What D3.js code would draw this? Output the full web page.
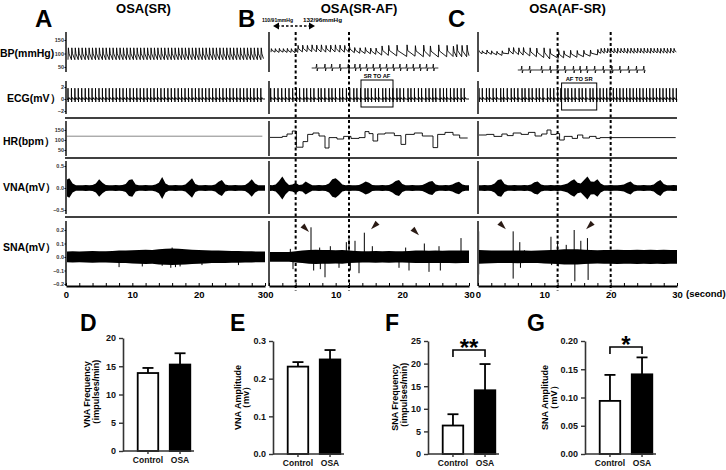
<!DOCTYPE html>
<html>
<head>
<meta charset="utf-8">
<script src="https://cdn.jsdelivr.net/npm/d3@7"></script>
<style>
  body { margin: 0; background: #fff; }
  svg { display: block; font-family: "Liberation Sans", Arial, sans-serif; }
</style>
</head>
<body>
<script>

// ---------- recording panels (A, B, C) ----------
const panelLetters = ['A', 'B', 'C'];
const panelTitles = ['OSA(SR)', 'OSA(SR-AF)', 'OSA(AF-SR)'];
const rowLabels = ['BP(mmHg)', 'ECG(mV）', 'HR(bpm）', 'VNA(mV）', 'SNA(mV）'];
const secondTicks = [0, 10, 20, 30];

// ECG R waves: first beat time (s) and R-R intervals (s)
const ecgStart = [0.3, 0.25, 0.15];
const rrA = [0.52,0.52,0.51,0.52,0.53,0.52,0.51,0.52,0.52,0.52,0.51,0.52,0.52,0.53,0.52,0.51,0.52,0.52,0.52,0.51,
  0.52,0.53,0.52,0.52,0.51,0.52,0.52,0.52,0.53,0.51,0.52,0.52,0.51,0.52,0.52,0.53,0.52,0.52,0.51,0.52,
  0.52,0.52,0.51,0.53,0.52,0.52,0.52,0.51,0.52,0.52,0.53,0.52,0.51,0.52,0.52,0.52];
const rrB = [0.55,0.55,0.56,0.55,0.54,0.55,0.56,0.48,0.62,0.45,0.58,0.50,0.66,0.42,0.55,0.60,0.47,0.52,0.64,0.44,
  0.57,0.50,0.61,0.46,0.55,0.68,0.43,0.52,0.58,0.49,0.63,0.45,0.56,0.51,0.60,0.47,0.54,0.66,0.44,0.53,
  0.59,0.48,0.62,0.50,0.55,0.45,0.64,0.52,0.47,0.58,0.53,0.50,0.56,0.48];
const rrC = [0.50,0.62,0.44,0.57,0.49,0.65,0.43,0.56,0.60,0.47,0.53,0.63,0.45,0.58,0.50,0.61,0.46,0.55,0.67,0.44,
  0.52,0.59,0.48,0.62,0.46,0.56,0.51,0.60,0.47,0.54,0.64,0.45,0.55,0.50,0.50,0.51,0.50,0.50,0.49,0.50,
  0.50,0.51,0.50,0.50,0.50,0.49,0.50,0.51,0.50,0.50,0.50,0.50,0.49,0.50,0.51,0.50,0.50];
const ecgR = [1.8, 1.8, 1.8];

// BP pulses in A follow every ECG beat: [systolic, diastolic]
const bpA = [121, 77];
// BP pulses in B and C: [time s, systolic, diastolic]
const bpB = [[0.3,118,105],[0.9,118,105],[1.5,119,104],[2.1,118,105],[2.7,119,104],[3.3,118,104],[3.9,118,103],
  [4.3,130,104],[5.0,131,106],[5.7,130,107],[6.4,132,107],[7.1,131,106],[7.8,132,106],[8.5,130,105],[9.2,131,106],
  [9.9,132,106],[10.6,131,105],[11.3,130,105],[12.0,128,104],[12.8,122,103],[13.6,121,101],[14.4,122,100],
  [15.2,120,99],[16.0,120,97],[16.9,128,94],[17.9,130,93],[19.15,131,91],[20.65,132,89],[21.9,129,90],
  [23.15,131,88],[24.15,128,89],[25.4,132,87],[26.65,130,88],[27.6,127,89],[28.15,133,87],[28.9,130,88],[29.65,131,88]];
const bpC = [[0.05,112,100],[0.6,110,99],[1.3,113,98],[2.0,110,97],[2.8,108,95],[3.6,110,93],
  [4.6,121,99],[5.3,122,98],[6.1,121,96],[6.8,122,94],[7.8,121,91],[8.8,120,88],[9.9,121,85],[10.8,118,80],
  [12.1,112,82],[12.9,110,84],[13.9,112,85],[14.9,111,86],[15.9,112,88],[16.9,113,90],[18.0,115,95],
  [18.5,119,101],[19.0,120,101],[19.5,119,102],[20.0,120,101],[20.5,119,102],[21.0,120,101],[21.5,119,102],
  [22.0,120,102],[22.5,119,101],[23.0,120,102],[23.5,119,101],[24.0,120,102],[24.5,119,102],[25.0,120,101],
  [25.5,119,102],[26.0,120,101],[26.5,119,102],[27.0,120,102],[27.5,119,101],[28.0,120,102],[28.5,119,101],
  [29.0,120,102],[29.5,119,102]];

// expanded ECG strips drawn under the BP trace in B and C (R wave times, s)
const insetSpanB = [6.4, 25.4];
const insetB = [7.15,8.4,9.4,10.65,11.9,12.9,13.65,14.65,15.65,16.65,17.65,18.65,19.65,20.65,21.65,22.65,23.65,24.65];
const insetSpanC = [6.0, 25.2];
const insetC = [6.6,7.8,9.6,10.9,12.0,13.1,14.4,15.4,16.4,17.6,18.9,20.2,21.4,22.7,23.9,25.0];

// heart rate, step values [time s, bpm]
const hrA = [[0, 119], [29.6, 119]];
const hrB = [[0,113],[2,118],[2.7,130],[3.5,145],[4.1,64],[5.1,92],[5.8,128],[6.6,135],[7.5,120],[8.4,60],[9.0,112],
  [10.2,105],[11.2,118],[12.3,108],[13.5,112],[14.4,142],[15.0,132],[15.6,95],[16.3,130],[17.4,135],[18.8,122],
  [19.8,78],[20.5,128],[21.8,135],[23.0,120],[24.6,62],[25.3,128],[26.4,138],[27.6,125],[28.6,110],[29.8,110]];
const hrC = [[0,125],[1.3,128],[2.4,118],[3.6,130],[4.4,122],[5.3,135],[6.5,128],[7.6,138],[8.6,120],[9.6,130],
  [10.4,150],[11.0,128],[11.8,132],[12.3,100],[13.0,118],[14.2,108],[15.0,125],[15.8,110],[16.8,118],[17.8,108],
  [18.4,112],[29.8,112]];

// VNA envelope half-amplitude (mV), every 0.5 s from 0 to 30 s
const vnaA = [0.18,0.22,0.10,0.06,0.06,0.06,0.07,0.06,0.07,0.10,0.20,0.12,0.07,0.06,0.06,0.07,0.06,0.07,0.09,0.18,
  0.20,0.08,0.06,0.06,0.07,0.06,0.06,0.08,0.12,0.25,0.10,0.06,0.06,0.07,0.06,0.06,0.08,0.15,0.22,0.09,
  0.06,0.06,0.07,0.06,0.06,0.08,0.14,0.18,0.08,0.06,0.06,0.07,0.06,0.06,0.07,0.12,0.20,0.10,0.06,0.06,0.06];
const vnaB = [0.07,0.06,0.08,0.16,0.26,0.14,0.07,0.08,0.12,0.07,0.08,0.15,0.10,0.06,0.06,0.07,0.06,0.07,0.10,0.20,
  0.22,0.16,0.08,0.06,0.07,0.06,0.06,0.07,0.10,0.15,0.12,0.07,0.06,0.06,0.07,0.06,0.07,0.10,0.16,0.18,
  0.09,0.06,0.06,0.07,0.06,0.06,0.07,0.10,0.14,0.16,0.08,0.06,0.06,0.07,0.06,0.08,0.12,0.14,0.08,0.06,0.06];
const vnaC = [0.06,0.06,0.07,0.06,0.07,0.10,0.18,0.20,0.09,0.06,0.06,0.07,0.06,0.06,0.07,0.06,0.08,0.13,0.15,0.08,
  0.06,0.06,0.07,0.06,0.07,0.06,0.08,0.10,0.16,0.20,0.12,0.10,0.18,0.26,0.15,0.14,0.20,0.10,0.06,0.06,
  0.07,0.06,0.06,0.07,0.08,0.12,0.15,0.08,0.06,0.06,0.07,0.06,0.06,0.08,0.14,0.18,0.09,0.06,0.06,0.07,0.06];

// SNA background band half-width (mV), every 1 s, and single spikes [time s, mV]
const snaBandA = [0.038,0.04,0.038,0.04,0.042,0.04,0.04,0.042,0.045,0.045,0.048,0.05,0.052,0.05,0.055,0.058,
  0.06,0.058,0.055,0.052,0.05,0.048,0.045,0.045,0.044,0.042,0.042,0.04,0.04,0.038,0.038];
const snaBandB = [0.035,0.036,0.035,0.036,0.04,0.045,0.05,0.052,0.05,0.05,0.048,0.05,0.045,0.042,0.04,0.04,
  0.042,0.04,0.042,0.04,0.04,0.042,0.045,0.045,0.044,0.045,0.044,0.045,0.046,0.045,0.045];
const snaBandC = [0.05,0.048,0.046,0.045,0.045,0.045,0.046,0.045,0.044,0.045,0.048,0.05,0.052,0.055,0.055,0.055,
  0.052,0.05,0.048,0.05,0.05,0.052,0.05,0.05,0.052,0.05,0.052,0.05,0.052,0.05,0.05];
const snaSpikesA = [[8.0,-0.075],[11.5,-0.07],[14.5,-0.065],[15.8,-0.08],[16.5,-0.075],[17.2,-0.07],[16.0,0.07],[20.5,-0.06],[26,-0.06]];
const snaSpikesB = [[3.2,0.06],[6.3,0.22],[7.6,0.07],[9.2,0.08],[11.6,0.11],[12.0,0.13],[12.9,0.12],[14.3,0.18],
  [15.5,0.08],[20.5,0.07],[23.3,0.1],[25.5,0.08],[28.8,0.14],[3.6,-0.09],[6.7,-0.1],[7.7,-0.09],[8.4,-0.15],
  [10.5,-0.08],[12.2,-0.1],[13.5,-0.12],[19.5,-0.08],[21,-0.1],[24,-0.11],[25.7,-0.1]];
const snaSpikesC = [[0.1,0.19],[0.1,-0.13],[5.3,0.19],[5.3,-0.16],[6.3,0.11],[6.4,-0.08],[7,0.05],[11,0.15],
  [11.1,-0.06],[12,0.12],[12.1,-0.07],[13.3,0.09],[14.5,0.2],[14.6,-0.18],[15.5,0.12],[16.5,0.14],[16.6,-0.17]];

// annotations
const dashedB = [4, 12], dashedC = [12, 20];
const arrowsB = [[5.4, 0.215, 1], [15.9, 0.235, -1], [21.9, 0.19, 1]];
const arrowsC = [[3.6, 0.235, 1], [16.9, 0.235, -1]];
const boxB = [13.8, 18.6], boxC = [12.6, 17.9];
const bpArrow = [0.6, 6.9];
const bpNotes = ['110/91mmHg', '132/96mmHg'];

// ---------- summary bars (D-G) ----------
const groups = ['Control', 'OSA'];
const vnaFreq = [13.8, 15.3], vnaFreqSem = [0.9, 2.0];
const vnaAmp = [0.232, 0.251], vnaAmpSem = [0.012, 0.025];
const snaFreq = [6.3, 14.1], snaFreqSem = [2.5, 5.8];
const snaAmp = [0.094, 0.141], snaAmpSem = [0.046, 0.030];

const W = 726, H = 470;
const svg = d3.select('body').append('svg').attr('width', W).attr('height', H);

const yBP = d3.scaleLinear([50, 150], [67, 40]);
const yECG = d3.scaleLinear([-2, 2], [111, 87]);
const yHR = d3.scaleLinear([50, 150], [150, 130]);
const yVNA = d3.scaleLinear([-0.5, 0.5], [210, 166]);
const ySNA = d3.scaleLinear([-0.2, 0.2], [284, 230]);
const rowSpans = [[32, 72], [81, 114], [121, 156], [161, 214], [221, 286]];
const separators = [118, 158, 217];

const panelX = [[66, 265], [269, 469], [478, 677]];

const cum = (start, rr) => rr.reduce((a, d) => (a.push(a[a.length - 1] + d), a), [start]);

function ecgPts(times, amp) {
  const p = [[0, 0]];
  times.forEach(t => p.push([t - 0.05, 0], [t - 0.02, -0.15], [t, amp], [t + 0.03, -0.5], [t + 0.06, 0], [t + 0.15, 0.25], [t + 0.25, 0]));
  p.push([30, 0]);
  return p.filter(d => d[0] >= 0 && d[0] <= 30);
}
function bpPts(beats) {
  const p = [];
  beats.forEach(b => p.push([b[0], b[2]], [b[0] + 0.06, b[1]], [b[0] + 0.16, b[2] + (b[1] - b[2]) * 0.5]));
  const last = beats[beats.length - 1];
  p.push([Math.min(30, last[0] + 0.4), last[2] + 4]);
  return p.filter(d => d[0] <= 30);
}
function insetPts(span, times) {
  const p = [[span[0], 0]];
  times.forEach(t => p.push([t - 0.1, 0], [t, 0.8], [t + 0.08, -0.6], [t + 0.18, 0]));
  p.push([span[1], 0]);
  return p;
}

const ecgTimes = [cum(ecgStart[0], rrA), cum(ecgStart[1], rrB), cum(ecgStart[2], rrC)];
const bpBeats = [ecgTimes[0].map(t => [t, bpA[0], bpA[1]]), bpB, bpC];
const hrData = [hrA, hrB, hrC];
const vnaData = [vnaA, vnaB, vnaC];
const snaBand = [snaBandA, snaBandB, snaBandC];
const snaSpikes = [snaSpikesA, snaSpikesB, snaSpikesC];

const defs = svg.append('defs');

panelX.forEach((px, pi) => {
  const x = d3.scaleLinear([0, 30], px);
  const clipId = 'clip' + pi;
  defs.append('clipPath').attr('id', clipId).append('rect')
    .attr('x', px[0] + 1).attr('y', 20).attr('width', px[1] - px[0]).attr('height', 270);
  const g = svg.append('g');
  const tr = g.append('g').attr('clip-path', `url(#${clipId})`);

  const line = (ys) => d3.line().x(d => x(d[0])).y(d => ys(d[1]));

  // BP
  tr.append('path').attr('d', line(yBP)(bpPts(bpBeats[pi])))
    .attr('fill', 'none').attr('stroke', '#000').attr('stroke-width', 0.9);
  // ECG
  tr.append('path').attr('d', line(yECG)(ecgPts(ecgTimes[pi], ecgR[pi])))
    .attr('fill', 'none').attr('stroke', '#000').attr('stroke-width', 0.9);
  // HR
  tr.append('path').attr('d', line(yHR).curve(d3.curveStepAfter)(hrData[pi]))
    .attr('fill', 'none').attr('stroke', pi ? '#000' : '#555').attr('stroke-width', pi ? 0.9 : 0.7);
  // VNA envelope
  tr.append('path')
    .attr('d', d3.area().x((d, i) => x(i * 0.5)).y0(d => yVNA(-d)).y1(d => yVNA(d))(vnaData[pi]))
    .attr('fill', '#000');
  // SNA band + spikes
  tr.append('path')
    .attr('d', d3.area().x((d, i) => x(i)).y0(d => ySNA(-d)).y1(d => ySNA(d * 1.05))(snaBand[pi]))
    .attr('fill', '#000');
  tr.selectAll('.spk').data(snaSpikes[pi]).join('line')
    .attr('x1', d => x(d[0])).attr('x2', d => x(d[0]))
    .attr('y1', ySNA(0)).attr('y2', d => ySNA(d[1]))
    .attr('stroke', '#000').attr('stroke-width', 1);

  // per-row left axis segments
  rowSpans.forEach(s => g.append('line').attr('x1', px[0]).attr('x2', px[0]).attr('y1', s[0]).attr('y2', s[1])
    .attr('stroke', '#000').attr('stroke-width', 1.4));

  // bottom axis
  const ax = g.append('g').attr('transform', 'translate(0,286)')
    .call(d3.axisBottom(x).tickValues(d3.range(0, 31, 2)).tickSizeInner(-3).tickSizeOuter(0).tickPadding(5)
      .tickFormat(d => secondTicks.includes(d) ? d : ''));
  ax.select('.domain').attr('stroke-width', 2);
  ax.selectAll('.tick line').attr('stroke-width', 1);
  ax.selectAll('text').attr('font-size', 9.5).attr('font-weight', 'bold')
    .attr('font-family', '"Liberation Sans", Arial, sans-serif').attr('fill', '#000')
    .attr('dx', d => (pi === 0 && d === 30) ? -2.5 : (pi === 1 && d === 0) ? 1.5 : 0);

  // titles and letters
  svg.append('text').attr('x', (px[0] + px[1]) / 2 - 22 + (pi ? 12 : 0)).attr('y', 12.5)
    .attr('text-anchor', 'middle').attr('font-size', 13).attr('font-weight', 'bold').text(panelTitles[pi]);
  svg.append('text').attr('x', px[0] - 31 + (pi === 2 ? 1 : 0)).attr('y', 27)
    .attr('font-size', 24).attr('font-weight', 'bold').text(panelLetters[pi]);
});

// separators
separators.forEach(y => svg.append('line').attr('x1', 65).attr('x2', 677).attr('y1', y).attr('y2', y)
  .attr('stroke', '#000').attr('stroke-width', 1.6));

// left tick labels for panel A
const tickFont = g => g.selectAll('text').attr('font-size', 5.5).attr('font-weight', 'bold').attr('fill', '#333')
  .attr('font-family', '"Liberation Sans", Arial, sans-serif');
[[yBP, [50, 100, 150], d3.format('d')], [yECG, [-2, 0, 2], d3.format('d')], [yHR, [50, 100, 150], d3.format('d')],
 [yVNA, [-0.5, 0, 0.5], d3.format('.1f')], [ySNA, [-0.2, -0.1, 0, 0.1, 0.2], d3.format('.1f')]].forEach(([s, t, f]) => {
  const a = svg.append('g').attr('transform', 'translate(66,0)')
    .call(d3.axisLeft(s).tickValues(t).tickFormat(f).tickSize(1.5).tickPadding(0.5));
  a.select('.domain').remove();
  tickFont(a);
});

// row labels
const rowLabelY = [57, 102, 145, 191, 251];
const rowLabelX = [0, 7, 3, 3, 3];
rowLabels.forEach((t, i) => svg.append('text').attr('x', rowLabelX[i]).attr('y', rowLabelY[i])
  .attr('font-size', 10.5).attr('font-weight', 'bold').text(t));

// axis unit
svg.append('text').attr('x', 686).attr('y', 297).attr('font-size', 9.5).attr('font-weight', 'bold').text('(second)');

// annotations in B and C
const xB = d3.scaleLinear([0, 30], panelX[1]);
const xC = d3.scaleLinear([0, 30], panelX[2]);
[[xB, dashedB], [xC, dashedC]].forEach(([x, ts]) => ts.forEach(t => svg.append('line')
  .attr('x1', x(t)).attr('x2', x(t)).attr('y1', 32).attr('y2', 291)
  .attr('stroke', '#000').attr('stroke-width', 2).attr('stroke-dasharray', '3,2.5')));

// inset ECG strips
[[xB, insetSpanB, insetB, 68], [xC, insetSpanC, insetC, 70]].forEach(([x, span, ts, cy]) => {
  const yi = d3.scaleLinear([-1, 1], [cy + 5, cy - 5]);
  svg.append('path').attr('d', d3.line().x(d => x(d[0])).y(d => yi(d[1]))(insetPts(span, ts)))
    .attr('fill', 'none').attr('stroke', '#000').attr('stroke-width', 0.8);
});

// boxes
[[xB, boxB, 80, 'SR TO AF'], [xC, boxC, 83, 'AF TO SR']].forEach(([x, b, top, label]) => {
  svg.append('rect').attr('x', x(b[0])).attr('y', top).attr('width', x(b[1]) - x(b[0])).attr('height', 27)
    .attr('fill', 'none').attr('stroke', '#000').attr('stroke-width', 1);
  svg.append('text').attr('x', (x(b[0]) + x(b[1])) / 2).attr('y', top - 2).attr('text-anchor', 'middle')
    .attr('font-size', 5.8).attr('font-weight', 'bold').text(label);
});

// BP change arrow
const arrowY = 26;
svg.append('line').attr('x1', xB(bpArrow[0]) + 4).attr('x2', xB(bpArrow[1]) - 4).attr('y1', arrowY).attr('y2', arrowY)
  .attr('stroke', '#000').attr('stroke-width', 1.5).attr('stroke-dasharray', '2.5,2');
[[xB(bpArrow[0]), 1], [xB(bpArrow[1]), -1]].forEach(([x, d]) => svg.append('path')
  .attr('d', `M${x},${arrowY} L${x + 6 * d},${arrowY - 3.5} L${x + 6 * d},${arrowY + 3.5} Z`).attr('fill', '#000'));
svg.append('text').attr('x', 262).attr('y', 21.5).attr('font-size', 6).attr('font-weight', 'bold')
  .attr('textLength', 31).attr('lengthAdjust', 'spacingAndGlyphs').text(bpNotes[0]);
svg.append('text').attr('x', 303).attr('y', 21.5).attr('font-size', 6).attr('font-weight', 'bold')
  .attr('textLength', 39).attr('lengthAdjust', 'spacingAndGlyphs').text(bpNotes[1]);

// arrowheads on SNA
[[xB, arrowsB], [xC, arrowsC]].forEach(([x, arr]) => arr.forEach(([t, v, dir]) => {
  const cx = x(t), cy = ySNA(v);
  svg.append('path')
    .attr('d', `M${cx + 4 * dir},${cy + 4} L${cx - 4.5 * dir},${cy - 0.5} L${cx - 0.5 * dir},${cy - 4.5} Z`)
    .attr('fill', '#2a1a14');
}));

// ---------- bar charts ----------
function barChart(c) {
  const y = d3.scaleLinear([0, c.max], [c.bottom, c.top]);
  const x = d3.scaleBand(groups, [c.left + 11.5, c.left + 70.5]).paddingInner(0.36).paddingOuter(0.1);
  const g = svg.append('g');
  const cx = d => x(d) + x.bandwidth() / 2;

  g.selectAll('.bar').data(groups).join('rect')
    .attr('x', d => x(d)).attr('width', x.bandwidth())
    .attr('y', (d, i) => y(c.values[i])).attr('height', (d, i) => c.bottom - y(c.values[i]))
    .attr('fill', (d, i) => i ? '#000' : '#fff').attr('stroke', '#000').attr('stroke-width', 1.8);

  groups.forEach((d, i) => {
    const top = y(c.values[i] + c.sem[i]);
    g.append('line').attr('x1', cx(d)).attr('x2', cx(d)).attr('y1', y(c.values[i])).attr('y2', top)
      .attr('stroke', '#000').attr('stroke-width', 1.8);
    g.append('line').attr('x1', cx(d) - 5.5).attr('x2', cx(d) + 5.5).attr('y1', top).attr('y2', top)
      .attr('stroke', '#000').attr('stroke-width', 1.8);
  });

  const ya = g.append('g').attr('transform', `translate(${c.left},0)`)
    .call(d3.axisLeft(y).tickValues(c.ticks).tickFormat(d3.format(c.fmt)).tickSize(4).tickSizeOuter(0).tickPadding(3));
  ya.select('.domain').attr('stroke', '#333').attr('stroke-width', 1.6);
  ya.selectAll('.tick line').attr('stroke', '#333').attr('stroke-width', 1.4);
  ya.selectAll('text').attr('font-size', 9).attr('font-weight', 'bold').attr('fill', '#111')
    .attr('font-family', '"Liberation Sans", Arial, sans-serif');

  const xa = g.append('g').attr('transform', `translate(0,${c.bottom})`)
    .call(d3.axisBottom(x).tickSize(3).tickSizeOuter(0).tickPadding(3));
  xa.select('.domain').remove();
  xa.selectAll('.tick line').attr('stroke', '#333').attr('stroke-width', 1.4);
  xa.selectAll('text').attr('font-size', 8.5).attr('font-weight', 'bold').attr('fill', '#111')
    .attr('font-family', '"Liberation Sans", Arial, sans-serif');
  g.append('line').attr('x1', c.left).attr('x2', c.left + 71).attr('y1', c.bottom).attr('y2', c.bottom)
    .attr('stroke', '#333').attr('stroke-width', 1.6);

  const my = (c.top + c.bottom) / 2;
  c.label.forEach((t, i) => g.append('text')
    .attr('transform', `translate(${c.left - c.labelOff[i]},${my}) rotate(-90)`)
    .attr('text-anchor', 'middle').attr('font-size', 9).attr('font-weight', 'bold').text(t));

  g.append('text').attr('x', c.letterX).attr('y', 331).attr('font-size', 23).attr('font-weight', 'bold').text(c.letter);

  if (c.sig) {
    const x1 = cx(groups[0]), x2 = cx(groups[1]);
    g.append('path').attr('d', `M${x1},${c.sigY + 7} V${c.sigY} H${x2} V${c.sigY + 7}`)
      .attr('fill', 'none').attr('stroke', '#000').attr('stroke-width', 1.6);
    g.append('text').attr('x', (x1 + x2) / 2).attr('y', c.sigY + 6).attr('text-anchor', 'middle')
      .attr('font-size', 24).attr('font-weight', 'bold').text(c.sig);
  }
}

barChart({ left: 123, top: 338, bottom: 451, max: 20, ticks: [0, 5, 10, 15, 20], fmt: 'd',
  values: vnaFreq, sem: vnaFreqSem, label: ['VNA Frequency', '（impulses/min)'], labelOff: [33, 24], letter: 'D', letterX: 80 });
barChart({ left: 273, top: 341, bottom: 454, max: 0.3, ticks: [0, 0.1, 0.2, 0.3], fmt: '.1f',
  values: vnaAmp, sem: vnaAmpSem, label: ['VNA Amplitude', '（mv）'], labelOff: [32, 24], letter: 'E', letterX: 230 });
barChart({ left: 428, top: 341, bottom: 454, max: 25, ticks: [0, 5, 10, 15, 20, 25], fmt: 'd',
  values: snaFreq, sem: snaFreqSem, label: ['SNA Frequency', '（impulses/min)'], labelOff: [30, 21], letter: 'F', letterX: 385,
  sig: '**', sigY: 350 });
barChart({ left: 585, top: 341, bottom: 454, max: 0.2, ticks: [0, 0.05, 0.1, 0.15, 0.2], fmt: '.2f',
  values: snaAmp, sem: snaAmpSem, label: ['SNA Amplitude', '（mV）'], labelOff: [37, 28], letter: 'G', letterX: 527,
  sig: '*', sigY: 347 });

</script>
</body>
</html>
